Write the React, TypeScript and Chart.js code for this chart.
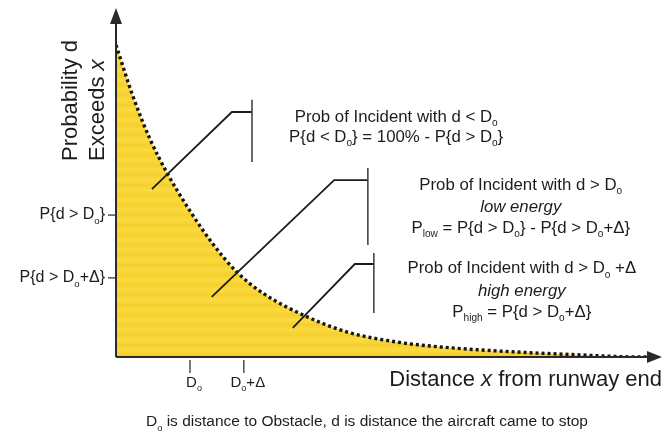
import React, { useEffect, useRef } from 'react';
import { Chart, registerables } from 'chart.js';
Chart.register(...registerables);

// ---- data ----
const distanceX = [0, 3.1, 6.25, 9.4, 13.6, 17.8, 22.2, 27.0, 34.4, 42.5, 51.7, 59.6, 70.6, 85.3, 96.3, 98];
const probExceeds = [89.9, 75.2, 62.8, 53.0, 42.1, 32.6, 24.5, 18.4, 12.1, 7.2, 4.3, 2.9, 1.7, 0.6, 0, 0];
const xTickValues = [13.6, 23.5];
const xTickLabels = ['D_{o}', 'D_{o}+Δ'];
const yTickValues = [40.9, 22.8];
const yTickLabels = ['P{d > D_{o}}', 'P{d > D_{o}+Δ}'];

const yTitleLines = ['Probability d', 'Exceeds |x|'];
const xTitle = 'Distance |x| from runway end';
const caption = 'D_{o} is distance to Obstacle, d is distance the aircraft came to stop';

// annotation callouts (data units): leader start, corner, end, bar from/to
const calloutStart = [[6.6, 48.4], [17.6, 17.3], [32.5, 8.4]];
const calloutCorner = [[21.3, 70.6], [40.1, 51.0], [43.9, 26.8]];
const calloutEndX = [25.0, 46.3, 47.4];
const calloutBar = [[74.1, 56.2], [54.5, 32.3], [30.0, 12.7]];

const noteCenterX = [51.5, 74.4, 74.6];
const noteLines = [
  ['Prob of Incident with d < D_{o}', 'P{d < D_{o}} = 100% - P{d > D_{o}}'],
  ['Prob of Incident with d > D_{o}', '|low energy|', 'P_{low} = P{d > D_{o}} - P{d > D_{o}+Δ}'],
  ['Prob of Incident with d > D_{o} +Δ', '|high energy|', 'P_{high} = P{d > D_{o}+Δ}'],
];
const noteLineY = [[69.2, 63.4], [49.6, 43.2, 37.2], [25.6, 19.0, 13.0]];

const FONT = '"Liberation Sans", Arial, Helvetica, sans-serif';
const INK = '#1c1c1c';

type Part = { t: string; sub: boolean; it: boolean; w?: number };

function parseRich(text: string, italicAll: boolean): Part[] {
  const out: Part[] = [];
  const tokens = text.split(/(_\{[^}]*\}|\|[^|]*\|)/).filter((s) => s.length > 0);
  for (const tk of tokens) {
    if (tk.startsWith('_{')) out.push({ t: tk.slice(2, -1), sub: true, it: italicAll });
    else if (tk.startsWith('|') && tk.endsWith('|') && tk.length > 1) out.push({ t: tk.slice(1, -1), sub: false, it: true });
    else out.push({ t: tk, sub: false, it: italicAll });
  }
  return out;
}

function drawRich(
  ctx: CanvasRenderingContext2D,
  text: string,
  x: number,
  y: number,
  size: number,
  align: 'left' | 'center' | 'right',
  italicAll = false
) {
  const parts = parseRich(text, italicAll);
  const subSize = size * 0.6;
  const f = (p: Part) => `${p.it ? 'italic ' : ''}${p.sub ? subSize : size}px ${FONT}`;
  let w = 0;
  for (const p of parts) {
    ctx.font = f(p);
    p.w = ctx.measureText(p.t).width;
    w += p.w;
  }
  let cx = align === 'center' ? x - w / 2 : align === 'right' ? x - w : x;
  ctx.textAlign = 'left';
  ctx.textBaseline = 'middle';
  ctx.fillStyle = INK;
  for (const p of parts) {
    ctx.font = f(p);
    ctx.fillText(p.t, cx, p.sub ? y + size * 0.4 : y);
    cx += p.w || 0;
  }
}

function makeFillPattern(): CanvasPattern | string {
  const c = document.createElement('canvas');
  c.width = 4;
  c.height = 10;
  const g = c.getContext('2d');
  if (!g) return '#F8D53A';
  const grad = g.createLinearGradient(0, 0, 0, 10);
  grad.addColorStop(0, '#F9DB42');
  grad.addColorStop(0.5, '#F6CF2C');
  grad.addColorStop(1, '#F9DB42');
  g.fillStyle = grad;
  g.fillRect(0, 0, 4, 10);
  const p = g.createPattern(c, 'repeat');
  return p || '#F8D53A';
}

const diagramPlugin = {
  id: 'diagram',
  afterDatasetsDraw(chart: any) {
    const ctx: CanvasRenderingContext2D = chart.ctx;
    const xs = chart.scales.x;
    const ys = chart.scales.y;
    const { left, right, top, bottom } = chart.chartArea;
    const X = (v: number) => xs.getPixelForValue(v);
    const Y = (v: number) => ys.getPixelForValue(v);
    ctx.save();

    // axes
    ctx.strokeStyle = '#2a2a2a';
    ctx.fillStyle = '#2a2a2a';
    ctx.lineWidth = 2;
    ctx.beginPath();
    ctx.moveTo(left, bottom);
    ctx.lineTo(left, top + 12);
    ctx.moveTo(left, bottom);
    ctx.lineTo(right - 12, bottom);
    ctx.stroke();
    ctx.beginPath();
    ctx.moveTo(left, top - 2);
    ctx.lineTo(left - 6, top + 14);
    ctx.lineTo(left + 6, top + 14);
    ctx.closePath();
    ctx.fill();
    ctx.beginPath();
    ctx.moveTo(right + 2, bottom);
    ctx.lineTo(right - 13, bottom - 6);
    ctx.lineTo(right - 13, bottom + 6);
    ctx.closePath();
    ctx.fill();

    // ticks
    ctx.lineWidth = 1.3;
    ctx.strokeStyle = '#333';
    xTickValues.forEach((v, i) => {
      const px = X(v);
      ctx.beginPath();
      ctx.moveTo(px, bottom + 3);
      ctx.lineTo(px, bottom + 16);
      ctx.stroke();
      drawRich(ctx, xTickLabels[i], px + 4, bottom + 26, 15, 'center');
    });
    yTickValues.forEach((v, i) => {
      const py = Y(v);
      ctx.beginPath();
      ctx.moveTo(left - 8, py);
      ctx.lineTo(left, py);
      ctx.stroke();
      drawRich(ctx, yTickLabels[i], left - 11, py, 16, 'right');
    });

    // callouts
    calloutStart.forEach((s, i) => {
      const c = calloutCorner[i];
      ctx.strokeStyle = INK;
      ctx.lineWidth = 1.8;
      ctx.beginPath();
      ctx.moveTo(X(s[0]), Y(s[1]));
      ctx.lineTo(X(c[0]), Y(c[1]));
      ctx.lineTo(X(calloutEndX[i]), Y(c[1]));
      ctx.stroke();
      ctx.lineWidth = 1.5;
      ctx.strokeStyle = '#3a3a3a';
      ctx.beginPath();
      ctx.moveTo(X(calloutEndX[i]), Y(calloutBar[i][0]));
      ctx.lineTo(X(calloutEndX[i]), Y(calloutBar[i][1]));
      ctx.stroke();
    });

    // notes
    noteLines.forEach((lines, i) => {
      lines.forEach((ln, j) => {
        drawRich(ctx, ln, X(noteCenterX[i]), Y(noteLineY[i][j]), 16.8, 'center');
      });
    });

    // y title (rotated)
    const yTitleX = [left - 45, left - 18];
    yTitleLines.forEach((ln, i) => {
      ctx.save();
      ctx.translate(yTitleX[i], 161);
      ctx.rotate(-Math.PI / 2);
      drawRich(ctx, ln, 0, 0, 22, 'left');
      ctx.restore();
    });

    // x title
    drawRich(ctx, xTitle, right + 2, bottom + 23, 22, 'right');

    // caption
    drawRich(ctx, caption, 146, bottom + 65, 15.5, 'left');

    ctx.restore();
  },
};

export default function App() {
  const ref = useRef<HTMLCanvasElement | null>(null);
  useEffect(() => {
    if (!ref.current) return;
    const chart = new Chart(ref.current, {
      type: 'line',
      data: {
        datasets: [
          {
            data: distanceX.map((x, i) => ({ x, y: probExceeds[i] })),
            borderColor: '#151515',
            borderWidth: 3.4,
            borderDash: [3, 3],
            backgroundColor: makeFillPattern() as any,
            fill: 'origin',
            pointRadius: 0,
            cubicInterpolationMode: 'monotone',
          },
        ],
      },
      options: {
        animation: false,
        responsive: false,
        layout: { padding: { left: 116, right: 7, top: 10, bottom: 82 } },
        plugins: { legend: { display: false }, tooltip: { enabled: false } },
        scales: {
          x: { type: 'linear', min: 0, max: 100, display: false },
          y: { type: 'linear', min: 0, max: 100, display: false },
        },
      },
      plugins: [diagramPlugin],
    });
    return () => chart.destroy();
  }, []);
  return (
    <div style={{ position: 'fixed', left: 0, top: 0, width: 667, height: 439, background: '#fff' }}>
      <canvas ref={ref} width={667} height={439} />
    </div>
  );
}
